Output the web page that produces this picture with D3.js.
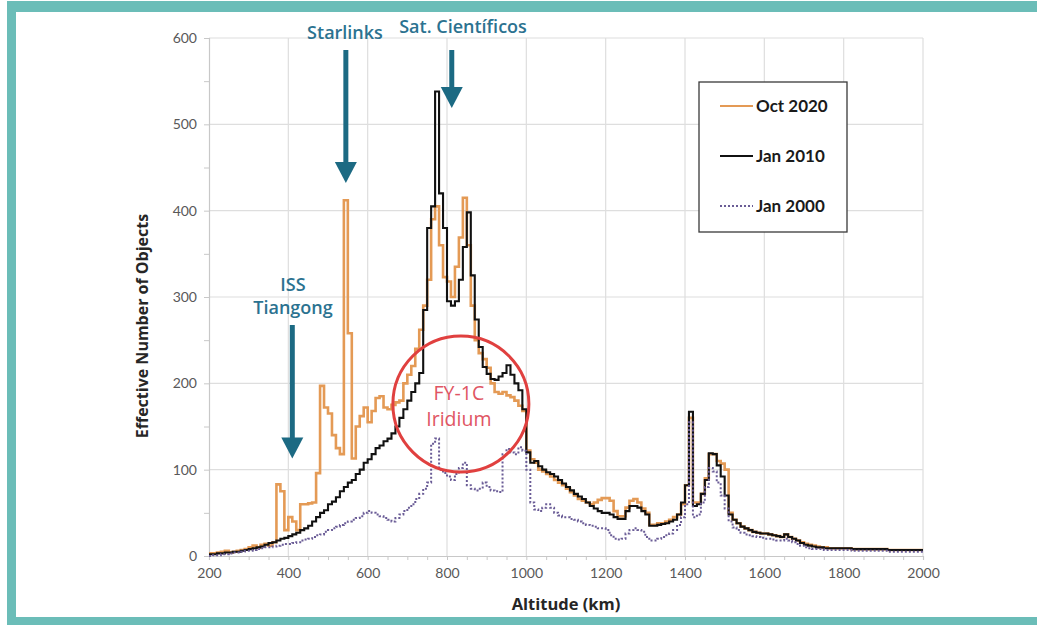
<!DOCTYPE html>
<html><head><meta charset="utf-8">
<script src="https://cdn.jsdelivr.net/npm/d3@7"></script>
<style>body{margin:0;background:#fff}svg{display:block}</style>
</head><body><svg id="c" width="1037" height="625"></svg>
<script>
// bin start altitudes (km), 10 km bins from 200 to 1990
const binWidth = 10;
const altitudes = d3.range(200, 2000, binWidth);
const seriesNames = ["Oct 2020", "Jan 2010", "Jan 2000"];
const oct2020 = [
  3,3,4,5,6,4,5,6,7,8,
  10,12,10,13,14,12,16,83,75,30,
  45,40,30,60,60,61,62,96,197,172,
  165,140,125,118,412,258,113,150,162,172,
  155,168,183,185,172,170,175,178,180,200,
  210,220,240,262,290,320,390,405,360,323,
  318,300,335,369,415,360,290,250,235,228,
  218,200,190,188,190,186,184,180,174,168,
  122,112,108,100,98,95,92,88,85,82,
  78,74,70,66,64,62,60,62,65,67,
  67,64,52,46,46,56,64,66,62,55,
  50,36,36,38,38,40,42,45,48,60,
  82,160,62,62,72,90,118,118,110,107,
  100,50,42,38,34,32,30,28,27,26,
  26,25,24,23,22,25,22,20,18,16,
  14,13,12,11,10,10,9,9,9,9,
  9,9,8,8,8,8,8,8,8,8,
  8,7,7,7,7,7,7,7,7,7];
const jan2010 = [
  2,2,3,3,4,4,5,5,6,7,
  8,9,10,11,13,15,16,18,20,21,
  23,25,27,30,32,35,40,45,50,53,
  60,63,68,75,80,85,88,95,100,108,
  112,118,125,128,133,136,142,150,160,170,
  180,190,200,212,285,380,405,538,420,380,
  295,290,295,320,358,398,325,274,242,219,
  211,205,204,208,212,221,210,200,192,170,
  120,108,110,104,100,97,95,92,88,84,
  80,76,72,69,66,62,58,55,52,50,
  50,48,45,43,43,52,58,58,56,52,
  48,35,35,36,37,38,40,42,48,62,
  82,167,58,60,72,88,119,118,105,92,
  70,48,42,38,34,32,30,28,27,26,
  26,25,24,23,22,25,22,20,18,15,
  13,12,11,10,10,9,9,9,9,9,
  9,9,8,8,8,8,8,8,8,8,
  8,7,7,7,7,7,7,7,7,7];
const jan2000 = [
  0,1,1,2,2,3,4,4,5,6,
  6,7,8,9,10,10,11,12,13,14,
  14,15,16,18,19,20,22,24,25,28,
  30,32,34,36,38,40,42,44,46,50,
  52,50,48,46,44,42,40,44,48,52,
  56,60,66,72,78,85,130,136,100,96,
  92,88,95,102,108,82,78,76,78,85,
  80,76,75,74,118,124,120,118,126,122,
  100,62,54,52,56,60,56,50,47,45,
  45,43,42,40,38,36,35,34,32,32,
  30,24,20,19,20,26,30,32,30,28,
  22,18,18,20,22,24,26,30,36,45,
  60,155,45,48,62,80,102,98,85,70,
  55,40,33,30,27,25,24,23,22,21,
  20,20,19,18,18,20,18,16,14,12,
  10,9,8,8,8,7,7,7,7,7,
  7,7,6,6,6,6,6,6,6,6,
  6,5,5,5,5,5,5,5,5,5];
const xTicks = [200,400,600,800,1000,1200,1400,1600,1800,2000];
const yTicks = [0,100,200,300,400,500,600];
const annotations = [
  {lines:["Starlinks"], alt:545, top:50, tip:432, text:[345,39]},
  {lines:["Sat. Científicos"], alt:812, top:50, tip:519, text:[463,33]},
  {lines:["ISS","Tiangong"], alt:410, top:325, tip:113, text:[293,291]}
];

const svg = d3.select("#c");
const x = d3.scaleLinear().domain([200,2000]).range([209,923]);
const y = d3.scaleLinear().domain([0,600]).range([556,38]);
const teal = "#6bbdb8";
const gridC = "#dedede";

// frame
svg.append("rect").attr("x",0).attr("y",0).attr("width",1037).attr("height",625).attr("fill","#fff");
svg.append("rect").attr("x",7).attr("y",1).attr("width",1030).attr("height",11).attr("fill",teal);
svg.append("rect").attr("x",7).attr("y",1).attr("width",9).attr("height",624).attr("fill",teal);
svg.append("rect").attr("x",7).attr("y",617).attr("width",1030).attr("height",8).attr("fill",teal);

// grid
const g = svg.append("g");
g.selectAll(".vg").data(xTicks.slice(1)).join("line")
  .attr("x1",d=>x(d)).attr("x2",d=>x(d)).attr("y1",y(600)).attr("y2",y(0))
  .attr("stroke",gridC).attr("stroke-width",1.2);
g.selectAll(".hg").data(yTicks.slice(1)).join("line")
  .attr("x1",x(200)).attr("x2",x(2000)).attr("y1",d=>y(d)).attr("y2",d=>y(d))
  .attr("stroke",gridC).attr("stroke-width",1.2);

// axes
const font = "Lato, 'Open Sans', sans-serif";
const titleFont = "'Open Sans', sans-serif";
const xAxis = d3.axisBottom(x).tickValues(d3.range(200,2001,50)).tickSize(4).tickFormat(d=> xTicks.includes(d)? d : "");
const gx = svg.append("g").attr("transform",`translate(0,${y(0)})`).call(xAxis);
gx.select(".domain").attr("stroke","#c8c8c8").attr("stroke-width",1.2);
gx.selectAll(".tick line").attr("stroke","#c8c8c8");
gx.selectAll("text").attr("font-family",font).attr("font-size",14).attr("fill","#595959").attr("dy","1.05em");
const yAxis = d3.axisLeft(y).tickValues(d3.range(0,601,50)).tickSize(5).tickFormat(d=> yTicks.includes(d)? d : "");
const gy = svg.append("g").attr("transform",`translate(${x(200)},0)`).call(yAxis);
gy.select(".domain").attr("stroke","#c8c8c8").attr("stroke-width",1.2);
gy.selectAll(".tick line").attr("stroke","#c8c8c8");
gy.selectAll("text").attr("font-family",font).attr("font-size",14).attr("fill","#595959").attr("x",-12);

// axis titles
svg.append("text").attr("x",566).attr("y",610).attr("text-anchor","middle")
  .attr("font-family",titleFont).attr("font-weight",700).attr("font-size",16.5).attr("fill","#262626").text("Altitude (km)");
svg.append("text").attr("transform","translate(148,326) rotate(-90)").attr("text-anchor","middle")
  .attr("font-family",titleFont).attr("font-weight",700).attr("font-size",16).attr("fill","#262626").text("Effective Number of Objects");

// series
const series = [
  {name:seriesNames[0], values:oct2020, color:"#e49a55", width:2.6, dash:null},
  {name:seriesNames[1], values:jan2010, color:"#111", width:2.1, dash:null},
  {name:seriesNames[2], values:jan2000, color:"#6a5c96", width:2, dash:"2,2"}
];
const line = d3.line().x(d=>x(d[0])).y(d=>y(d[1])).curve(d3.curveStepAfter);
series.forEach(s=>{
  const pts = altitudes.map((a,i)=>[a,s.values[i]]);
  pts.push([2000, s.values[s.values.length-1]]);
  svg.append("path").datum(pts).attr("d",line).attr("fill","none")
    .attr("stroke",s.color).attr("stroke-width",s.width)
    .attr("stroke-dasharray",s.dash).attr("stroke-linejoin","miter");
});

// legend
const lg = svg.append("g");
lg.append("rect").attr("x",699).attr("y",82).attr("width",148).attr("height",150)
  .attr("fill","#fff").attr("stroke","#3a3a3a").attr("stroke-width",1.3);
series.forEach((s,i)=>{
  const yy = 106 + i*50;
  lg.append("line").attr("x1",720).attr("x2",753).attr("y1",yy).attr("y2",yy)
    .attr("stroke",s.color).attr("stroke-width",s.dash?2:2.2).attr("stroke-dasharray",s.dash);
  lg.append("text").attr("x",756).attr("y",yy+5.5).attr("font-family",font).attr("font-weight",700)
    .attr("font-size",17).attr("fill","#1a1a1a").text(s.name);
});

// annotations
const arrowC = "#1c6a83", textC = "#2b7290";
annotations.forEach(a=>{
  const ax = x(a.alt);
  const tipY = y(a.tip);
  const headH = 21, headW = 11;
  svg.append("line").attr("x1",ax).attr("x2",ax).attr("y1",a.top).attr("y2",tipY-headH+2)
    .attr("stroke",arrowC).attr("stroke-width",5);
  svg.append("path").attr("d",`M${ax-headW},${tipY-headH} L${ax+headW},${tipY-headH} L${ax},${tipY} Z`).attr("fill",arrowC);
  a.lines.forEach((t,i)=>{
    svg.append("text").attr("x",a.text[0]).attr("y",a.text[1]+i*23).attr("text-anchor","middle")
      .attr("font-family",titleFont).attr("font-weight",600).attr("font-size",18)
      .attr("fill",textC).text(t);
  });
});

// FY-1C circle
const circleAlt = 835, circleVal = 176;
svg.append("circle").attr("cx",x(circleAlt)).attr("cy",y(circleVal)).attr("r",68)
  .attr("fill","none").attr("stroke","#e0403f").attr("stroke-width",3);
["FY-1C","Iridium"].forEach((t,i)=>{
  svg.append("text").attr("x",x(circleAlt)-2).attr("y",400+i*26).attr("text-anchor","middle")
    .attr("font-family",titleFont).attr("font-size",19.5).attr("fill","#e05563").text(t);
});
</script></body></html>
